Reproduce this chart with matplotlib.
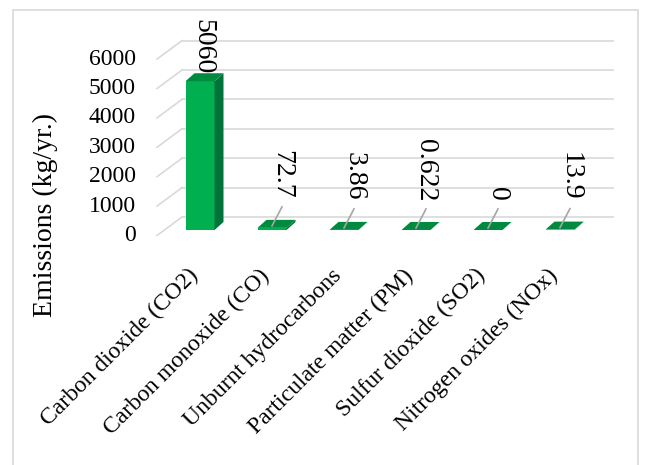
import matplotlib
matplotlib.use("Agg")
import matplotlib.pyplot as plt
from matplotlib.patches import Polygon, Rectangle
from matplotlib.transforms import ScaledTranslation

# emissions per pollutant (kg/yr.)
pollutants = ['Carbon dioxide (CO2)', 'Carbon monoxide (CO)', 'Unburnt hydrocarbons',
              'Particulate matter (PM)', 'Sulfur dioxide (SO2)', 'Nitrogen oxides (NOx)']
emissions = [5060, 72.7, 3.86, 0.622, 0, 13.9]
yticks = [0, 1000, 2000, 3000, 4000, 5000, 6000]

plt.rcParams['font.family'] = ['Liberation Serif', 'DejaVu Serif']

W, H, DPI = 645, 465, 100
fig = plt.figure(figsize=(W / DPI, H / DPI), dpi=DPI)

# chart border
fig.patches.append(Rectangle((13 / W, -0.01), 625 / W, 1 - 10 / H + 0.01,
                             transform=fig.transFigure, fill=False,
                             edgecolor='#D9D9D9', linewidth=1.2))

# the axes is the front plane of the bars
ax_l, ax_w = 164, 432
ax_b, ax_h = H - 230, 176.4
ax = fig.add_axes([ax_l / W, ax_b / H, ax_w / W, ax_h / H])
ax.set_xlim(-0.5, len(pollutants) - 0.5)
ax.set_ylim(0, 6000)
ax.axis('off')


def shift(trans, dx, dy):
    # offset a transform by dx, dy pixels (dy positive = up)
    return trans + ScaledTranslation(dx / DPI, dy / DPI, fig.dpi_scale_trans)


px_x = ax_w / 6.0          # pixels per category
px_y = ax_h / 6000.0       # pixels per kg/yr

# back wall gridlines + side wall slants
grid_c = '#D9D9D9'
yt = ax.get_yaxis_transform()
for t in yticks:
    ax.plot([0.0417, 1.0394], [t, t], color=grid_c, lw=1.2,
            transform=shift(yt, 0, 13), zorder=1, clip_on=False)
    y_front = t - 5.5 / px_y
    y_back = t + 13 / px_y
    ax.plot([-0.0162, 0.0417], [y_front, y_back], color=grid_c, lw=1.2,
            transform=yt, zorder=1, clip_on=False)
    ax.text(-0.0648, t, f'{t}', transform=shift(yt, 0, -5.5),
            ha='right', va='center', fontsize=17)

# 3d-looking bars
bar_w = 29 / px_x
dx, dy = 9 / px_x, 8 / px_y
front_c, side_c, top_c = '#00B050', '#00733A', '#008A3F'
for i, v in enumerate(emissions):
    xl, xr = i - bar_w / 2, i + bar_w / 2
    if v > 0:
        ax.add_patch(Rectangle((xl, 0), bar_w, v, facecolor=front_c,
                               edgecolor='none', zorder=3, clip_on=False))
    ax.add_patch(Polygon([(xr, 0), (xr, v), (xr + dx, v + dy), (xr + dx, dy)],
                         facecolor=side_c, edgecolor='none', zorder=3, clip_on=False))
    ax.add_patch(Polygon([(xl, v), (xr, v), (xr + dx, v + dy), (xl + dx, v + dy)],
                         facecolor=top_c, edgecolor='none', zorder=4, clip_on=False))

    label = f'{v:g}'
    if v > 1000:
        ax.text(i, v, label, transform=shift(ax.transData, 3, 7),
                rotation=270, ha='center', va='bottom', fontsize=20, zorder=5)
    else:
        ax.plot([i, i + 10 / px_x], [v + 2 / px_y, v + 21 / px_y],
                color='#A6A6A6', lw=1.2, zorder=5, clip_on=False)
        ax.text(i, v, label, transform=shift(ax.transData, 10, 29),
                rotation=270, ha='center', va='bottom', fontsize=20, zorder=5)

# category labels along the floor front edge
xt = ax.get_xaxis_transform()
for i, name in enumerate(pollutants):
    ax.text(i, 0, name, transform=shift(xt, -13, -35), rotation=45,
            rotation_mode='anchor', ha='right', va='top', fontsize=17)

fig.text(45 / W, 1 - 215 / H, 'Emissions (kg/yr.)', rotation=90,
         ha='center', va='center', fontsize=20)

fig.savefig('out.png', dpi=DPI)
